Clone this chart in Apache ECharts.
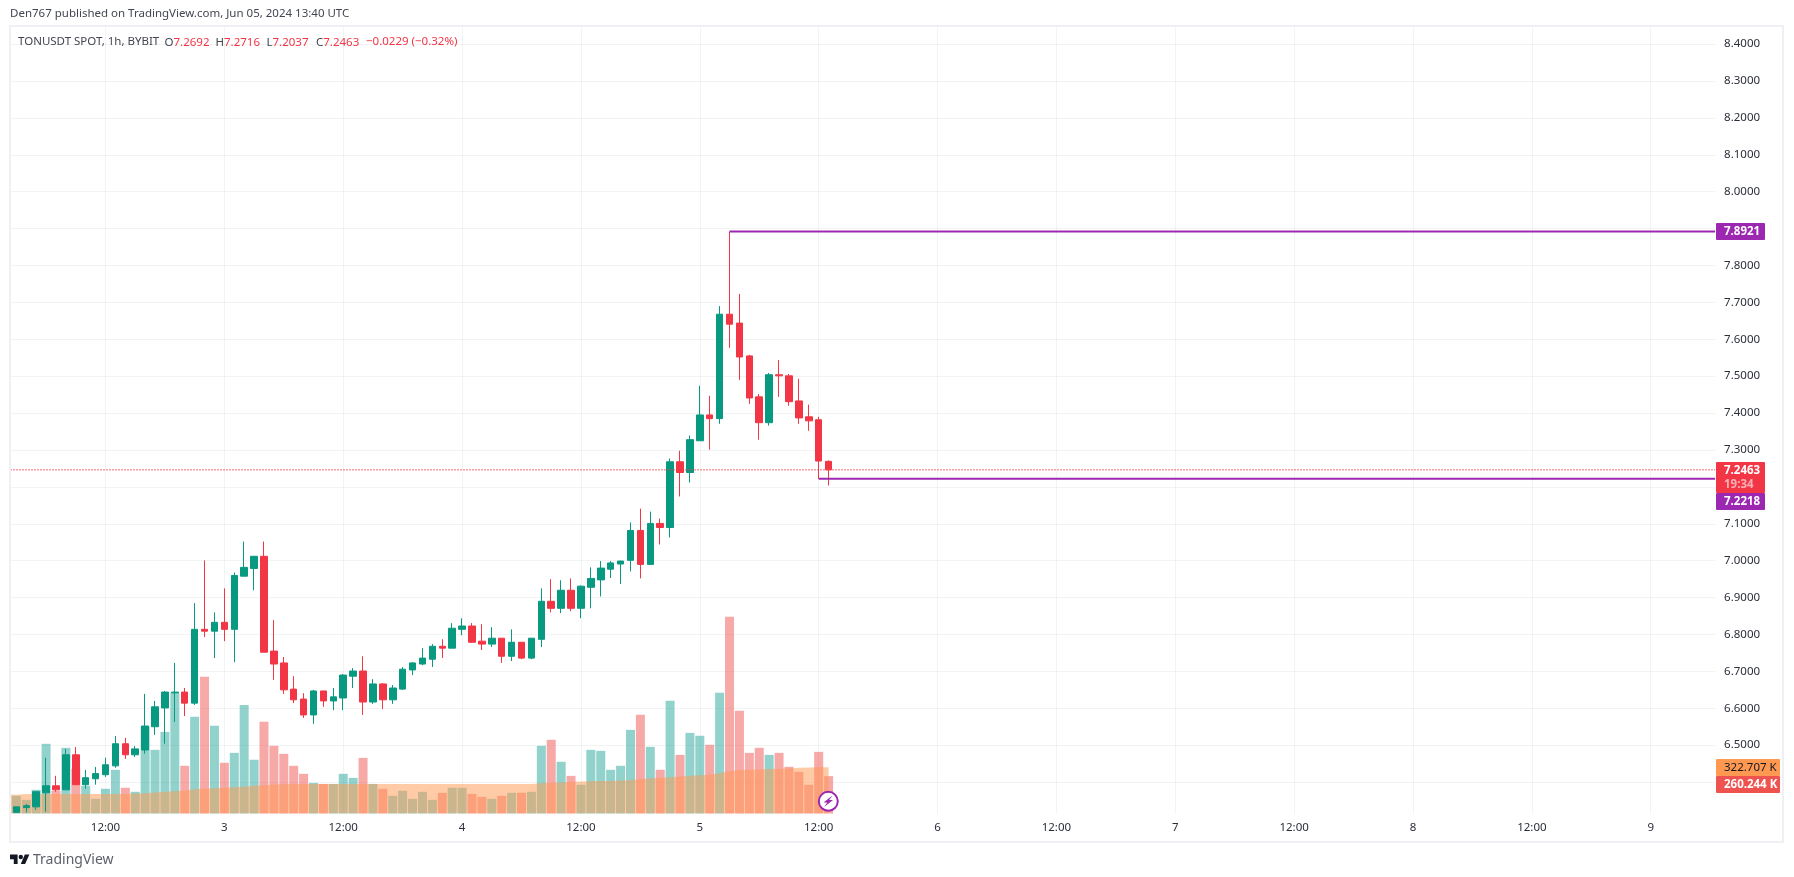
<!DOCTYPE html>
<html><head><meta charset="utf-8">
<style>html,body{margin:0;padding:0;background:#fff}#c{width:1794px;height:877px}</style>
<script src="https://cdn.jsdelivr.net/npm/echarts@6/dist/echarts.min.js"></script>
</head><body><div id="c"></div>
<script>
const opens=[6.318,6.331,6.333,6.371,6.390,6.379,6.474,6.393,6.409,6.420,6.444,6.504,6.474,6.487,6.550,6.601,6.642,6.644,6.614,6.814,6.809,6.833,6.814,6.958,6.979,7.012,6.755,6.723,6.652,6.625,6.582,6.647,6.620,6.628,6.687,6.701,6.617,6.666,6.623,6.652,6.704,6.720,6.733,6.768,6.763,6.814,6.823,6.782,6.774,6.790,6.741,6.779,6.736,6.787,6.890,6.871,6.920,6.871,6.928,6.948,6.977,6.991,7.001,7.082,6.990,7.101,7.090,7.268,7.239,7.325,7.395,7.385,7.668,7.644,7.555,7.444,7.374,7.504,7.501,7.433,7.390,7.382,7.2692];
const closes=[6.333,6.336,6.374,6.390,6.379,6.474,6.393,6.412,6.423,6.447,6.504,6.474,6.490,6.552,6.604,6.644,6.644,6.614,6.814,6.809,6.833,6.814,6.960,6.982,7.012,6.752,6.720,6.650,6.623,6.582,6.647,6.620,6.631,6.690,6.701,6.617,6.666,6.623,6.655,6.706,6.723,6.736,6.768,6.763,6.817,6.823,6.779,6.774,6.790,6.741,6.779,6.736,6.790,6.890,6.871,6.920,6.871,6.931,6.952,6.980,6.994,6.999,7.082,6.990,7.101,7.090,7.268,7.239,7.328,7.395,7.385,7.668,7.641,7.552,7.441,7.374,7.504,7.501,7.431,7.387,7.379,7.270,7.2463];
const lows=[6.318,6.318,6.325,6.320,6.374,6.379,6.393,6.382,6.393,6.414,6.439,6.463,6.468,6.477,6.528,6.504,6.563,6.579,6.609,6.793,6.736,6.782,6.725,6.958,6.920,6.752,6.677,6.639,6.614,6.574,6.558,6.604,6.595,6.595,6.655,6.582,6.612,6.598,6.612,6.650,6.690,6.717,6.712,6.736,6.763,6.798,6.777,6.758,6.766,6.723,6.728,6.733,6.733,6.766,6.860,6.858,6.863,6.844,6.871,6.903,6.953,6.937,6.971,6.952,6.990,7.044,7.063,7.174,7.212,7.325,7.301,7.371,7.577,7.490,7.425,7.328,7.366,7.444,7.420,7.371,7.352,7.2218,7.2037];
const highs=[6.333,6.341,6.374,6.466,6.417,6.490,6.495,6.433,6.441,6.466,6.525,6.520,6.498,6.639,6.620,6.647,6.723,6.655,6.885,7.001,6.860,6.925,6.968,7.052,7.012,7.052,6.839,6.739,6.687,6.641,6.650,6.647,6.655,6.693,6.709,6.741,6.679,6.668,6.663,6.712,6.725,6.763,6.774,6.787,6.831,6.844,6.831,6.828,6.820,6.790,6.814,6.779,6.790,6.925,6.950,6.947,6.952,6.933,6.982,6.999,6.999,7.000,7.104,7.141,7.133,7.114,7.277,7.298,7.339,7.474,7.447,7.690,7.8921,7.723,7.558,7.452,7.509,7.544,7.506,7.493,7.423,7.390,7.2716];
// volume in thousands; first entry is the bar cut off by the left edge of the pane
const volumes=[276,123,95,165,485,158,457,311,193,102,172,304,179,151,603,443,568,840,332,673,951,610,353,422,756,374,638,471,415,332,276,213,206,206,276,248,387,206,172,123,158,102,151,95,144,179,179,137,116,102,123,144,144,151,471,513,360,262,200,443,436,304,332,582,687,464,304,784,408,561,541,478,840,1369,715,422,457,408,422,325,290,200,429,260.244];
const volumeMA=[132,130,135,135,135,135,135,135,135,135,135,135,135,139,141,146,151,155,158,169,174,176,179,183,186,193,197,202,204,206,206,206,206,206,206,206,206,206,206,206,206,206,206,206,206,206,206,206,206,206,206,206,206,206,211,213,216,220,223,225,227,227,230,234,239,246,248,253,258,262,267,269,281,295,302,304,306,309,311,313,318,320,322.5,322.707];
const tickSlots=[10,22,34,46,58,70,82,94,106,118,130,142,154,166];
const tickLabels=['12:00','3','12:00','4','12:00','5','12:00','6','12:00','7','12:00','8','12:00','9'];
const slotCount=173;
const peakLevel=7.8921, peakStart=73;
const floorLevel=7.2218, floorStart=82;
const lastPrice=7.2463;

const FONT='"Noto Sans","Open Sans",sans-serif';
const UP='#089981',DOWN='#f23645',PURPLE='#9c27b0',GRID='rgba(42,46,57,0.06)',TXT='#2a2e39';
const cats=Array.from({length:slotCount},(_,i)=>{const k=tickSlots.indexOf(i);return k>=0?tickLabels[k]:'';});
const candle=[['-','-','-','-']].concat(opens.map((o,i)=>[o,closes[i],lows[i],highs[i]]));
const volBars=volumes.map((v,i)=>{
  const up=i===0||closes[i-1]>=opens[i-1];
  return {value:v,itemStyle:{color:up?'rgba(38,166,154,0.5)':'rgba(239,83,80,0.5)'}};
});
const showTick=(i)=>tickSlots.indexOf(i)>=0;
const L=1.5,W=1713.6;

function box(x,y,w,h,fill){return {type:'rect',z:100,silent:true,shape:{x,y,width:w,height:h,r:1},style:{fill}};}
function txt(x,y,text,size,fill,weight){return {type:'text',z:101,silent:true,x,y,style:{text,fill,font:(weight||'normal')+' '+size+'px '+FONT,verticalAlign:'middle'}};}
function pair(x,k,v){return {type:'text',z:101,silent:true,x,y:36.5,style:{text:'{a|'+k+'}{b|'+v+'}',rich:{a:{fill:'#434651',font:'11.5px '+FONT,lineHeight:12},b:{fill:DOWN,font:'11.5px '+FONT,lineHeight:12}}}};}

const graphics=[
 {type:'rect',z:90,silent:true,shape:{x:0,y:0,width:9,height:877},style:{fill:'#fff'}},
 {type:'rect',z:91,silent:true,shape:{x:10,y:26,width:1773,height:816},style:{fill:'none',stroke:'#eff0f5',lineWidth:2}},
 txt(10,14,'Den767 published on TradingView.com, Jun 05, 2024 13:40 UTC',11.5,'#434651'),
 txt(18,42,'TONUSDT SPOT, 1h, BYBIT',11.5,'#434651'),
 pair(164.5,'O','7.2692'),pair(215.5,'H','7.2716'),pair(266.5,'L','7.2037'),pair(316,'C','7.2463'),
 txt(366,42,'−0.0229 (−0.32%)',11.5,DOWN),
 box(1716,223,49,17,PURPLE),txt(1724,232,'7.8921',11.5,'#fff','bold'),
 box(1716,462,49,31,DOWN),txt(1724,470.5,'7.2463',11.5,'#fff','bold'),txt(1724,485,'19:34',11.5,'rgba(255,255,255,0.6)','bold'),
 box(1716,493,49,17,PURPLE),txt(1724,502,'7.2218',11.5,'#fff','bold'),
 box(1716,759,64,17,'#ff9850'),txt(1724,768,'322.707 K',11.5,'#131722'),
 box(1716,776,64,17,'#ef5350'),txt(1724,785,'260.244 K',11.5,'#fff','bold'),
 {type:'polygon',z:101,silent:true,shape:{points:[[10,854.5],[17.6,854.5],[17.6,864],[13.8,864],[13.8,859.2],[10,859.2]]},style:{fill:'#131722'}},
 {type:'polygon',z:101,silent:true,shape:{points:[[25.1,864],[20.8,864],[24.85,854.5],[29.4,854.5]]},style:{fill:'#131722'}},
 {type:'circle',z:101,silent:true,shape:{cx:20.8,cy:857,r:2.2},style:{fill:'#131722'}},
 txt(33,860,'TradingView',14,'#5d606b'),
 {type:'circle',z:101,silent:true,shape:{cx:828.3,cy:801.3,r:9.5},style:{fill:'#fff',stroke:PURPLE,lineWidth:2}},
 {type:'polygon',z:102,silent:true,shape:{points:[[832.5,795.5],[823.5,802.5],[827.3,802.5],[824.2,807],[833,800],[829.2,800]]},style:{fill:PURPLE}}
];

const chart=echarts.init(document.getElementById('c'),null,{renderer:'canvas'});
chart.setOption({
 animation:false,backgroundColor:'#fff',tooltip:{show:false},
 textStyle:{fontFamily:FONT},
 grid:[
  {left:L,width:W,top:7.2,height:811.8},
  {left:L,width:W,top:26,height:787.5},
  {left:L,width:W,top:7.2,height:811.8}
 ],
 xAxis:[
  {gridIndex:0,type:'category',data:cats,show:false,boundaryGap:true},
  {gridIndex:1,type:'category',data:cats,boundaryGap:true,
   axisLine:{show:false},axisTick:{show:false},
   axisLabel:{interval:showTick,color:TXT,fontSize:11.5,fontFamily:FONT,margin:8,hideOverlap:false,formatter:(v)=>v},
   splitLine:{show:true,alignWithLabel:true,interval:showTick,lineStyle:{color:GRID,width:1}}},
  {gridIndex:2,type:'value',min:-0.5,max:slotCount-0.5,show:false}
 ],
 yAxis:[
  {gridIndex:0,type:'value',position:'right',min:6.3,max:8.5,interval:0.1,
   axisLine:{show:false},axisTick:{show:false},
   axisLabel:{color:TXT,fontSize:11.5,fontFamily:FONT,margin:9,align:'left',padding:[2,0,0,0],showMinLabel:false,showMaxLabel:false,formatter:(v)=>v.toFixed(4)},
   splitLine:{show:true,showMinLine:false,showMaxLine:false,lineStyle:{color:GRID,width:1}}},
  {gridIndex:1,type:'value',min:0,max:5481,show:false,splitLine:{show:false}},
  {gridIndex:2,type:'value',min:6.3,max:8.5,show:false,splitLine:{show:false}}
 ],
 series:[
  {type:'bar',name:'Volume',xAxisIndex:1,yAxisIndex:1,data:volBars,barWidth:9,z:1,silent:true},
  {type:'line',name:'Volume MA',xAxisIndex:1,yAxisIndex:1,data:volumeMA,symbol:'none',z:2,silent:true,
   lineStyle:{width:0},areaStyle:{color:'#ff9850',opacity:0.5}},
  {type:'candlestick',name:'TONUSDT',xAxisIndex:0,yAxisIndex:0,data:candle,barWidth:7,z:3,silent:true,
   itemStyle:{color:UP,color0:DOWN,borderColor:UP,borderColor0:DOWN,borderWidth:1}},
  {type:'line',name:'Last',xAxisIndex:2,yAxisIndex:2,data:[[-0.5,lastPrice],[slotCount-0.5,lastPrice]],symbol:'none',z:4,silent:true,
   lineStyle:{color:DOWN,width:1.5,type:[1,2]}},
  {type:'line',name:'High ray',xAxisIndex:2,yAxisIndex:2,data:[[peakStart,peakLevel],[slotCount-0.5,peakLevel]],symbol:'none',z:5,silent:true,
   lineStyle:{color:PURPLE,width:2}},
  {type:'line',name:'Low ray',xAxisIndex:2,yAxisIndex:2,data:[[floorStart,floorLevel],[slotCount-0.5,floorLevel]],symbol:'none',z:5,silent:true,
   lineStyle:{color:PURPLE,width:2}}
 ],
 graphic:graphics
});
</script></body></html>
